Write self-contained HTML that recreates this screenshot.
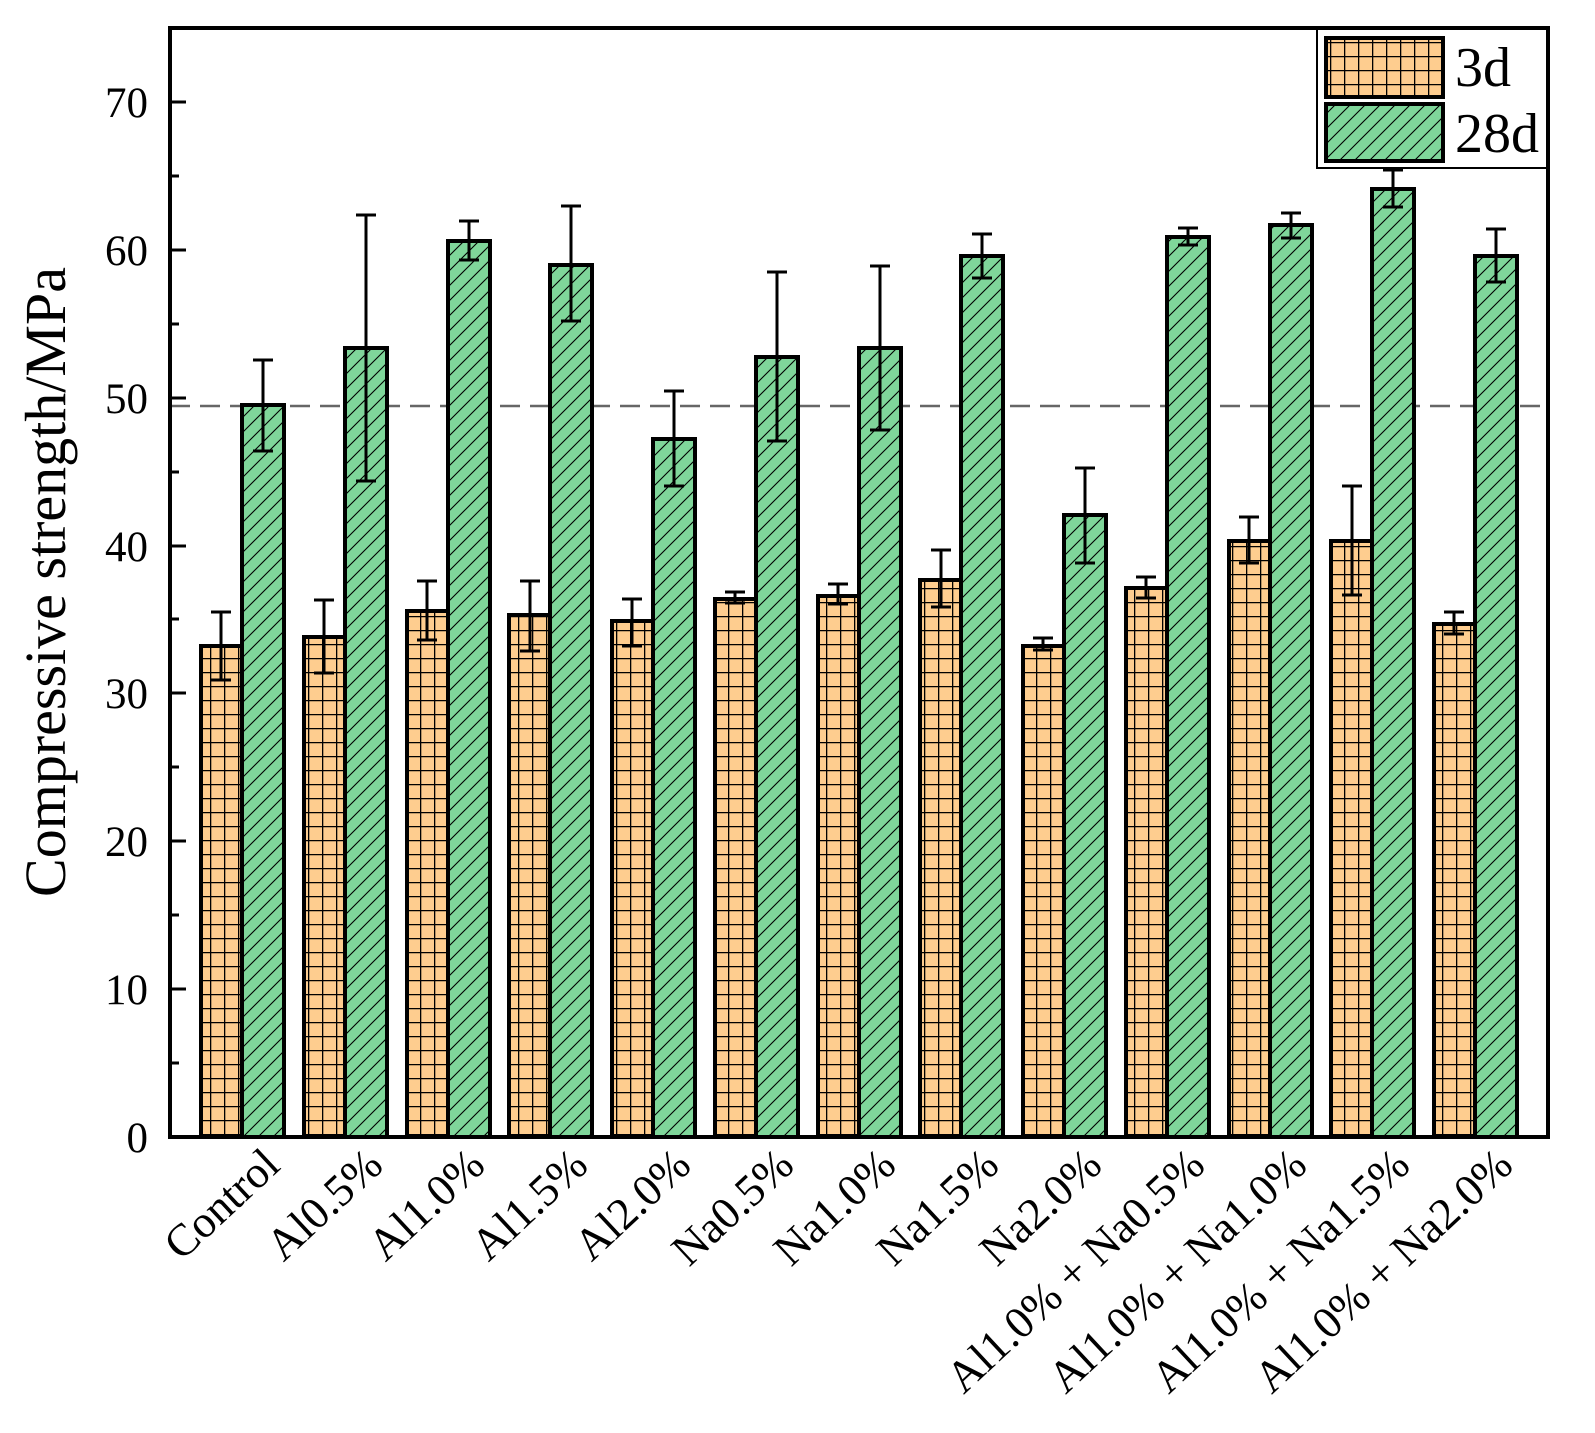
<!DOCTYPE html>
<html><head><meta charset="utf-8"><style>body{margin:0;background:#fff}svg{display:block}</style></head><body>
<svg width="1595" height="1433" viewBox="0 0 1595 1433" xmlns="http://www.w3.org/2000/svg" font-family="Liberation Serif, serif">
<defs>
<pattern id="grid" width="14" height="14" patternUnits="userSpaceOnUse">
<rect width="14" height="14" fill="#fecd8f"/><path d="M0 0.5H14M0.5 0V14" stroke="#000" stroke-width="1.6"/>
</pattern>
<pattern id="hatch" width="15" height="15" patternUnits="userSpaceOnUse">
<rect width="15" height="15" fill="#7fd69a"/><path d="M-4 19L19 -4M-4 4L4 -4M11 19L19 11" stroke="#000" stroke-width="1.1"/>
</pattern>
</defs>
<rect x="0" y="0" width="1595" height="1433" fill="#fff"/>
<line x1="170" y1="406" x2="1548" y2="406" stroke="#666" stroke-width="2.5" stroke-dasharray="20,10"/>
<g stroke="#000" stroke-width="4">
<rect x="201" y="646" width="41" height="491" fill="url(#grid)"/>
<rect x="304" y="637" width="41" height="500" fill="url(#grid)"/>
<rect x="407" y="611" width="41" height="526" fill="url(#grid)"/>
<rect x="509" y="615" width="41" height="522" fill="url(#grid)"/>
<rect x="612" y="621" width="41" height="516" fill="url(#grid)"/>
<rect x="715" y="599" width="41" height="538" fill="url(#grid)"/>
<rect x="818" y="596" width="41" height="541" fill="url(#grid)"/>
<rect x="920" y="580" width="41" height="557" fill="url(#grid)"/>
<rect x="1023" y="646" width="41" height="491" fill="url(#grid)"/>
<rect x="1126" y="588" width="41" height="549" fill="url(#grid)"/>
<rect x="1229" y="541" width="41" height="596" fill="url(#grid)"/>
<rect x="1331" y="541" width="41" height="596" fill="url(#grid)"/>
<rect x="1434" y="624" width="41" height="513" fill="url(#grid)"/>
<rect x="242" y="405" width="42" height="732" fill="url(#hatch)"/>
<rect x="345" y="348" width="42" height="789" fill="url(#hatch)"/>
<rect x="448" y="241" width="42" height="896" fill="url(#hatch)"/>
<rect x="550" y="265" width="42" height="872" fill="url(#hatch)"/>
<rect x="653" y="439" width="42" height="698" fill="url(#hatch)"/>
<rect x="756" y="357" width="42" height="780" fill="url(#hatch)"/>
<rect x="859" y="348" width="42" height="789" fill="url(#hatch)"/>
<rect x="961" y="256" width="42" height="881" fill="url(#hatch)"/>
<rect x="1064" y="515" width="42" height="622" fill="url(#hatch)"/>
<rect x="1167" y="237" width="42" height="900" fill="url(#hatch)"/>
<rect x="1270" y="225" width="42" height="912" fill="url(#hatch)"/>
<rect x="1372" y="189" width="42" height="948" fill="url(#hatch)"/>
<rect x="1475" y="256" width="42" height="881" fill="url(#hatch)"/>
</g>
<g stroke="#000" stroke-width="3" fill="none">
<path d="M221 612V680M211 612H231M211 680H231"/>
<path d="M324 600V673M314 600H334M314 673H334"/>
<path d="M427 581V640M417 581H437M417 640H437"/>
<path d="M530 581V651M520 581H540M520 651H540"/>
<path d="M632 599V646M622 599H642M622 646H642"/>
<path d="M735 592V603M725 592H745M725 603H745"/>
<path d="M838 584V604M828 584H848M828 604H848"/>
<path d="M941 550V607M931 550H951M931 607H951"/>
<path d="M1043 638V650M1033 638H1053M1033 650H1053"/>
<path d="M1146 577V598M1136 577H1156M1136 598H1156"/>
<path d="M1249 517V563M1239 517H1259M1239 563H1259"/>
<path d="M1352 486V595M1342 486H1362M1342 595H1362"/>
<path d="M1454 612V634M1444 612H1464M1444 634H1464"/>
<path d="M263 360V451M253 360H273M253 451H273"/>
<path d="M366 215V481M356 215H376M356 481H376"/>
<path d="M469 221V260M459 221H479M459 260H479"/>
<path d="M571 206V321M561 206H581M561 321H581"/>
<path d="M674 391V486M664 391H684M664 486H684"/>
<path d="M777 272V441M767 272H787M767 441H787"/>
<path d="M880 266V430M870 266H890M870 430H890"/>
<path d="M982 234V278M972 234H992M972 278H992"/>
<path d="M1085 468V563M1075 468H1095M1075 563H1095"/>
<path d="M1188 228V245M1178 228H1198M1178 245H1198"/>
<path d="M1291 213V238M1281 213H1301M1281 238H1301"/>
<path d="M1393 170V207M1383 170H1403M1383 207H1403"/>
<path d="M1496 229V282M1486 229H1506M1486 282H1506"/>
</g>
<rect x="1317" y="28" width="231" height="140" fill="#fff" stroke="#000" stroke-width="2"/>
<rect x="1326" y="38" width="117" height="59" fill="url(#grid)" stroke="#000" stroke-width="4"/>
<rect x="1326" y="104" width="117" height="57" fill="url(#hatch)" stroke="#000" stroke-width="4"/>
<text x="1455" y="86" font-size="56">3d</text>
<text x="1455" y="152" font-size="56">28d</text>
<rect x="170" y="28" width="1378" height="1109" fill="none" stroke="#000" stroke-width="4"/>
<g stroke="#000" stroke-width="3">
<path d="M170 1137H186M170 989H186M170 841H186M170 693H186M170 546H186M170 398H186M170 250H186M170 102H186"/>
<path d="M170 1063H179M170 915H179M170 767H179M170 619H179M170 472H179M170 324H179M170 176H179M170 28H179"/>
</g>
<g font-size="43" text-anchor="end">
<text x="148" y="1152">0</text>
<text x="148" y="1004">10</text>
<text x="148" y="856">20</text>
<text x="148" y="708">30</text>
<text x="148" y="561">40</text>
<text x="148" y="413">50</text>
<text x="148" y="265">60</text>
<text x="148" y="117">70</text>
</g>
<text transform="translate(65,582) rotate(-90)" font-size="58" text-anchor="middle">Compressive strength/MPa</text>
<g font-size="45" text-anchor="end">
<text transform="translate(282,1168) rotate(-43)">Control</text>
<text transform="translate(385,1168) rotate(-43)">Al0.5%</text>
<text transform="translate(487,1168) rotate(-43)">Al1.0%</text>
<text transform="translate(590,1168) rotate(-43)">Al1.5%</text>
<text transform="translate(693,1168) rotate(-43)">Al2.0%</text>
<text transform="translate(796,1168) rotate(-43)">Na0.5%</text>
<text transform="translate(898,1168) rotate(-43)">Na1.0%</text>
<text transform="translate(1001,1168) rotate(-43)">Na1.5%</text>
<text transform="translate(1104,1168) rotate(-43)">Na2.0%</text>
<text transform="translate(1207,1168) rotate(-43)">Al1.0% + Na0.5%</text>
<text transform="translate(1309,1168) rotate(-43)">Al1.0% + Na1.0%</text>
<text transform="translate(1412,1168) rotate(-43)">Al1.0% + Na1.5%</text>
<text transform="translate(1515,1168) rotate(-43)">Al1.0% + Na2.0%</text>
</g>
</svg>
</body></html>
